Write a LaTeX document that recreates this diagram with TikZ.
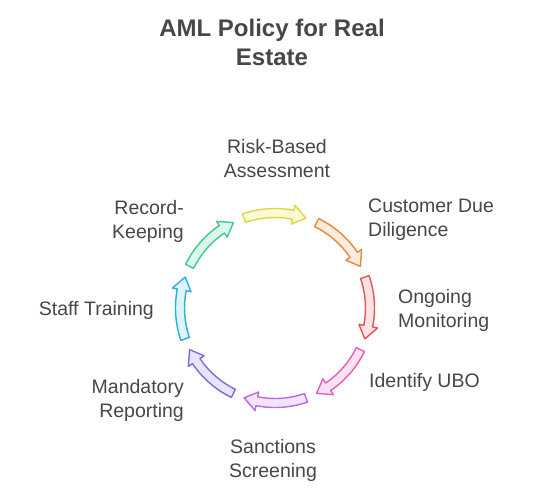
\documentclass[tikz,border=0pt]{standalone}
\usepackage{fontspec}
\setmainfont{Liberation Sans}
\usetikzlibrary{calc}
\begin{document}
\begin{tikzpicture}[x=1pt,y=1pt,
  lbl/.style={text=txt,font=\fontsize{19.5}{24}\selectfont,inner sep=0pt},
  ttl/.style={text=txt,font=\fontsize{24}{29}\selectfont\bfseries,inner sep=0pt,align=center},
  arr/.style={line width=1.4pt,line join=round}]
\definecolor{txt}{HTML}{474747}
\definecolor{yS}{HTML}{E2D63C}\definecolor{yF}{HTML}{FCFAD6}
\definecolor{oS}{HTML}{E08A3A}\definecolor{oF}{HTML}{FDEBDD}
\definecolor{rS}{HTML}{E05757}\definecolor{rF}{HTML}{FDE3E3}
\definecolor{pS}{HTML}{E062B8}\definecolor{pF}{HTML}{FBE1F2}
\definecolor{uS}{HTML}{B86BE0}\definecolor{uF}{HTML}{F3E4FB}
\definecolor{vS}{HTML}{7E6AE0}\definecolor{vF}{HTML}{E8E5FB}
\definecolor{cS}{HTML}{2BB0DA}\definecolor{cF}{HTML}{DDF4FB}
\definecolor{gS}{HTML}{3CCB8E}\definecolor{gF}{HTML}{DDF7EB}
\useasboundingbox (0,0) rectangle (534,-489);
\fill[white] (0,0) rectangle (534,-489);
\coordinate (C) at (275,-308);
\newcommand\cyclearrow[3]{%
  \draw[arr,draw=#1,fill=#2] ($(C)+(#3+19:99.5)$)
    arc[start angle=#3+19,end angle=#3-11,radius=99.5]
    -- ($(C)+(#3-11:104.5)$) -- ($(C)+(#3-19:95)$) -- ($(C)+(#3-11:85.5)$)
    -- ($(C)+(#3-11:90.5)$)
    arc[start angle=#3-11,end angle=#3+19,radius=90.5] -- cycle;}
\cyclearrow{yS}{yF}{90}
\cyclearrow{oS}{oF}{45}
\cyclearrow{rS}{rF}{0}
\cyclearrow{pS}{pF}{-45}
\cyclearrow{uS}{uF}{-90}
\cyclearrow{vS}{vF}{-135}
\cyclearrow{cS}{cF}{-180}
\cyclearrow{gS}{gF}{-225}
\node[ttl] (title) at (272,-42) {AML Policy for Real\\Estate};
\node[lbl,align=center] (risk) at (277,-159) {Risk-Based\\Assessment};
\node[lbl,align=left,anchor=west] (cdd) at (368,-220) {Customer Due\\Diligence};
\node[lbl,align=left,anchor=west] (mon) at (398,-310) {Ongoing\\Monitoring};
\node[lbl,align=left,anchor=west] (ubo) at (369,-382) {Identify UBO};
\node[lbl,align=center] (sanc) at (273,-460) {Sanctions\\Screening};
\node[lbl,align=right,anchor=east] (rep) at (184,-400) {Mandatory\\Reporting};
\node[lbl,align=right,anchor=east] (staff) at (154,-310) {Staff Training};
\node[lbl,align=right,anchor=east] (rec) at (184,-221) {Record-\\Keeping};
\end{tikzpicture}
\end{document}
